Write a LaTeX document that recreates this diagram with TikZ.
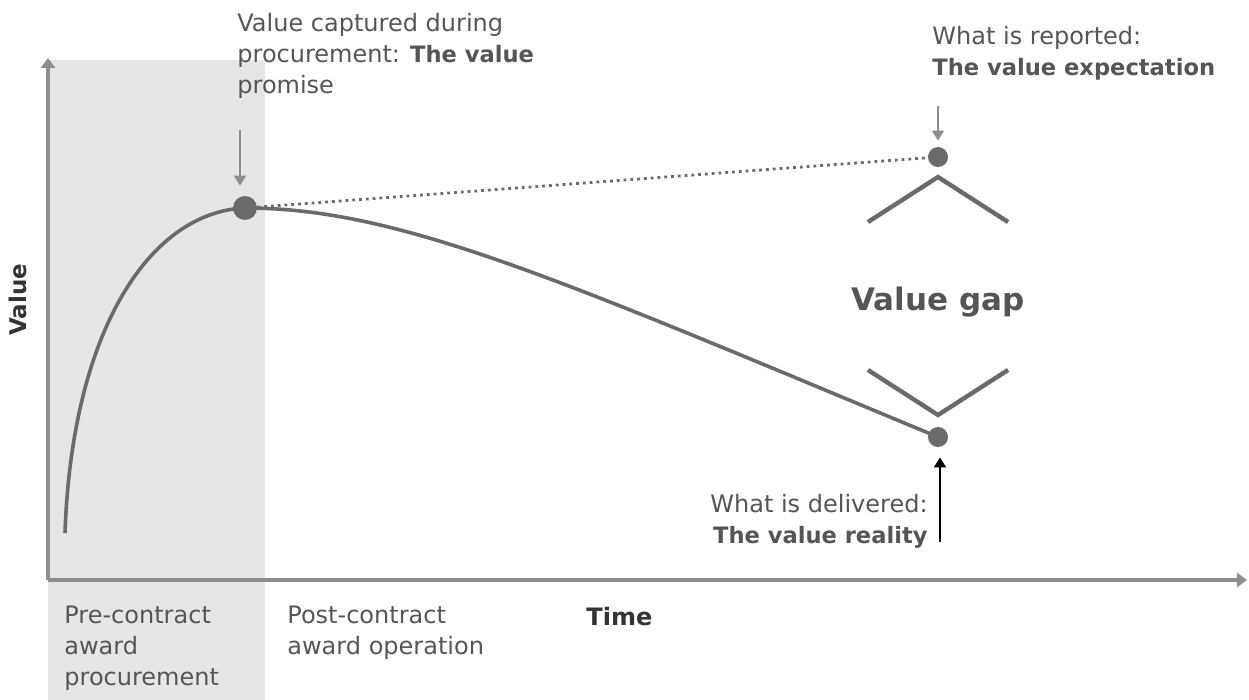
\documentclass[tikz,border=0pt]{standalone}
\usepackage{fontspec}
\setmainfont{DejaVu Sans}
\usetikzlibrary{arrows.meta,positioning}
\definecolor{shadegray}{HTML}{E6E6E6}
\definecolor{curvegray}{HTML}{6A6A6A}
\definecolor{axisgray}{HTML}{8E8E8E}
\definecolor{textgray}{HTML}{555555}
\newcommand\boldpart[1]{{\bfseries\fontsize{11.3}{15.5}\selectfont #1}}
\tikzset{
  labeltext/.style={text=textgray, font=\fontsize{12}{15.5}\selectfont, inner sep=0pt},
  valuedot/.style={circle, fill=curvegray, inner sep=0pt, minimum size=#1},
  pointer/.style={-{Triangle[width=6pt,length=5pt]}, draw=axisgray, line width=0.7pt},
  gapmark/.style={draw=curvegray, line width=2.2pt},
}
\begin{document}
\begin{tikzpicture}[x=0.5pt, y=-0.5pt]
    \useasboundingbox (0,0) rectangle (1249,700);
    % procurement phase
    \fill[shadegray] (48,60) rectangle (265,700);
    % axes
    \coordinate (origin) at (48,580);
    \coordinate (ytop) at (48,58);
    \coordinate (xend) at (1247,580);
    \draw[draw=axisgray, line width=1.6pt, -{Triangle[width=7pt,length=5pt]}]
        (origin) -- (ytop);
    \draw[draw=axisgray, line width=1.6pt, -{Triangle[width=7pt,length=5pt]}]
        (origin) -- (xend);
    % value points
    \coordinate (start) at (65,533);
    \node[valuedot=12pt] (promise) at (245,208) {};
    \node[valuedot=10pt] (expect) at (938,157) {};
    \node[valuedot=10pt] (reality) at (938,437) {};
    \draw[curvegray, line width=1.8pt]
        (start) .. controls (72,330) and (150,212) .. (promise.center)
        .. controls (400,208) and (560,280) .. (reality.center);
    \draw[curvegray, line width=1.4pt, dotted] (promise) -- (expect);
    % value gap
    \draw[gapmark] (868,222) -- (938,177) -- (1008,222);
    \draw[gapmark] (868,370) -- (938,415) -- (1008,370);
    \node[text=textgray, font=\bfseries\fontsize{15.5}{18}\selectfont] (gap) at (938,302) {Value gap};
    % labels
    \node[labeltext, anchor=north west, align=left] (promisetext) at (237,13)
        {Value captured during\\procurement: \boldpart{The value}\\promise};
    \node[labeltext, anchor=north west, align=left] (expecttext) at (932,26)
        {What is reported:\\\boldpart{The value expectation}};
    \node[labeltext, anchor=north east, align=right] (realitytext) at (928,494)
        {What is delivered:\\\boldpart{The value reality}};
    \coordinate (promisetip) at (240,130);
    \coordinate (expecttip) at (938,106);
    \coordinate (realitytip) at (940,542);
    \draw[pointer, shorten >=5pt] (promisetip) -- (promisetip |- promise.north);
    \draw[pointer, shorten >=3pt] (expecttip) -- (expecttip |- expect.north);
    \draw[pointer, draw=black, shorten >=5pt] (realitytip) -- (realitytip |- reality.south);
    % axis titles
    \node[text=black!80, font=\bfseries\fontsize{11.5}{14}\selectfont, rotate=90] (vlabel) at (18,300) {Value};
    \node[text=black!80, font=\bfseries\fontsize{12}{14}\selectfont, anchor=north west, inner sep=0pt] (tlabel) at (586,607) {Time};
    \node[labeltext, anchor=north west, align=left] (pretext) at (64,606)
        {Pre-contract\\award\\procurement};
    \node[labeltext, anchor=north west, align=left] (posttext) at (287,606)
        {Post-contract\\award operation};
\end{tikzpicture}
\end{document}
